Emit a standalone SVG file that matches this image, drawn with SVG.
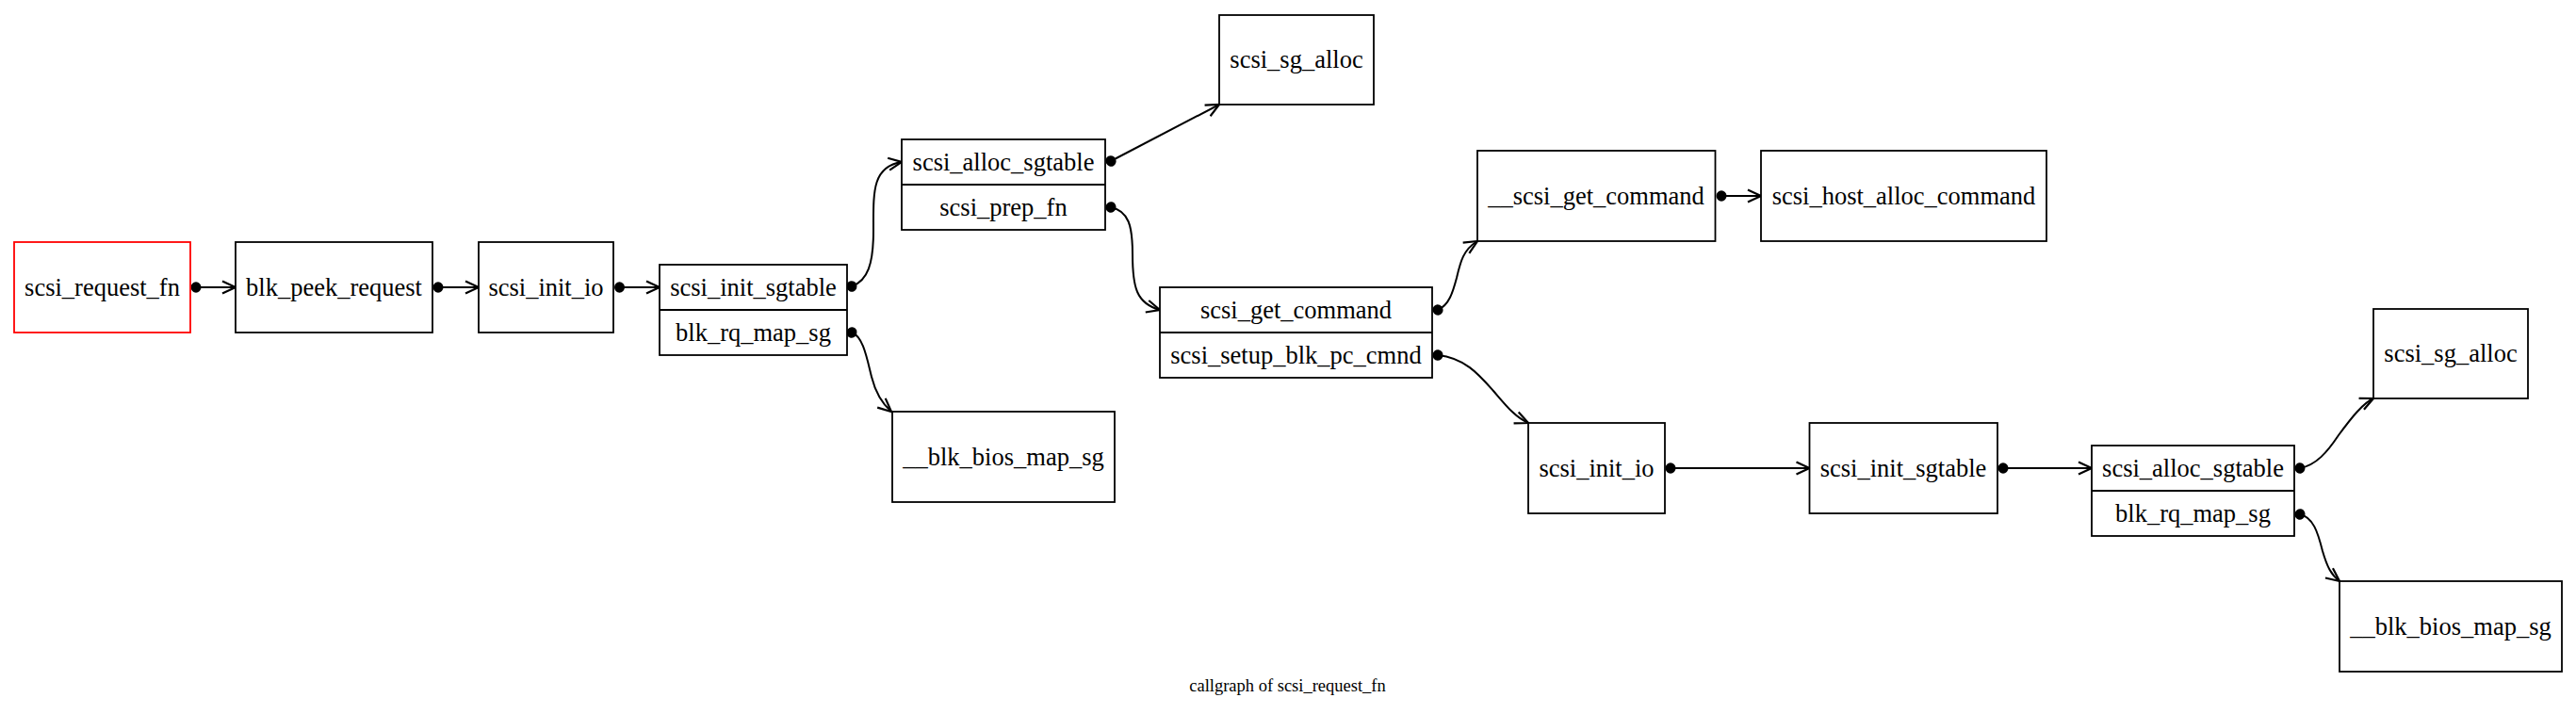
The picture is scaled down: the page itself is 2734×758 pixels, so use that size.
<svg xmlns="http://www.w3.org/2000/svg" width="2734" height="758" viewBox="0 0 2734 758">
<style>
.box{fill:#ffffff;stroke:#000000;stroke-width:1.8}
.red{stroke:#ff0000}
.div{stroke:#000000;stroke-width:1.8}
.lbl{font-family:"Liberation Serif","Times New Roman",serif;font-size:26.5px;fill:#000000;text-anchor:middle}
.title{font-family:"Liberation Serif","Times New Roman",serif;font-size:18.5px;fill:#000000;text-anchor:middle}
.edge{fill:none;stroke:#000000;stroke-width:2;marker-start:url(#dot);marker-end:url(#vee)}
</style>
<defs>
<marker id="vee" markerUnits="userSpaceOnUse" viewBox="-17 -9 19 18" refX="0" refY="0" markerWidth="19" markerHeight="18" orient="auto" overflow="visible">
<path d="M-14,-6.5 L0,0 L-14,6.5" fill="none" stroke="#000000" stroke-width="2.2"/>
</marker>
<marker id="dot" markerUnits="userSpaceOnUse" viewBox="-7 -7 14 14" refX="0" refY="0" markerWidth="14" markerHeight="14" orient="auto" overflow="visible">
<ellipse cx="0" cy="0" rx="5.5" ry="5.8" fill="#000000"/>
</marker>
</defs>
<rect width="2734" height="758" fill="#ffffff"/>
<g id="edges">
<path class="edge" d="M208,305 L250,305"/>
<path class="edge" d="M465,305 L508,305"/>
<path class="edge" d="M657.5,305 L700,305"/>
<path class="edge" d="M904,304 C921,298 927,280 927,245 C927,205 925,177 957,172"/>
<path class="edge" d="M904,353 C916,357 920,380 925,400 C930,420 938,430 946,437"/>
<path class="edge" d="M1179,171 L1294,111"/>
<path class="edge" d="M1179,220 C1198,224 1202,240 1202,270 C1202,305 1206,322 1231,329"/>
<path class="edge" d="M1526,329 C1538,324 1542,310 1546,295 C1550,278 1553,265 1568,256"/>
<path class="edge" d="M1526,377 C1555,380 1570,398 1585,415 C1598,430 1608,443 1622,449"/>
<path class="edge" d="M1827,208 L1869,208"/>
<path class="edge" d="M1773,497 L1920.5,497"/>
<path class="edge" d="M2126,497 L2220,497"/>
<path class="edge" d="M2441,497 C2458,494 2470,480 2482,462 C2496,443 2508,428 2519,423"/>
<path class="edge" d="M2441,546 C2455,549 2460,565 2465,585 C2470,602 2474,610 2483,617"/>
</g>
<g id="scsi_request_fn">
<rect class="box red" x="15" y="257" width="187" height="96"/>
<text class="lbl" x="108.5" y="314">scsi_request_fn</text>
</g>
<g id="blk_peek_request">
<rect class="box" x="250" y="257" width="209" height="96"/>
<text class="lbl" x="354.5" y="314">blk_peek_request</text>
</g>
<g id="scsi_init_io_1">
<rect class="box" x="508" y="257" width="143" height="96"/>
<text class="lbl" x="579.5" y="314">scsi_init_io</text>
</g>
<g id="rec_init_sgtable_1">
<rect class="box" x="700" y="281" width="199" height="96"/>
<line class="div" x1="700" y1="329" x2="899" y2="329"/>
<text class="lbl" x="799.5" y="313.5">scsi_init_sgtable</text>
<text class="lbl" x="799.5" y="361.5">blk_rq_map_sg</text>
</g>
<g id="rec_alloc_sgtable_1">
<rect class="box" x="957" y="148" width="216" height="96"/>
<line class="div" x1="957" y1="196" x2="1173" y2="196"/>
<text class="lbl" x="1065" y="180.5">scsi_alloc_sgtable</text>
<text class="lbl" x="1065" y="228.5">scsi_prep_fn</text>
</g>
<g id="scsi_sg_alloc_1">
<rect class="box" x="1294" y="16" width="164" height="95"/>
<text class="lbl" x="1376" y="72">scsi_sg_alloc</text>
</g>
<g id="blk_bios_map_sg_1">
<rect class="box" x="947" y="437" width="236" height="96"/>
<text class="lbl" x="1065" y="493.5">__blk_bios_map_sg</text>
</g>
<g id="rec_get_command">
<rect class="box" x="1231" y="305" width="289" height="96"/>
<line class="div" x1="1231" y1="353" x2="1520" y2="353"/>
<text class="lbl" x="1375.5" y="337.5">scsi_get_command</text>
<text class="lbl" x="1375.5" y="385.5">scsi_setup_blk_pc_cmnd</text>
</g>
<g id="__scsi_get_command">
<rect class="box" x="1568" y="160" width="252.5" height="96"/>
<text class="lbl" x="1694" y="216.5">__scsi_get_command</text>
</g>
<g id="scsi_host_alloc_command">
<rect class="box" x="1869" y="160" width="303" height="96"/>
<text class="lbl" x="2020.5" y="216.5">scsi_host_alloc_command</text>
</g>
<g id="scsi_init_io_2">
<rect class="box" x="1622" y="449" width="145" height="96"/>
<text class="lbl" x="1694.5" y="505.5">scsi_init_io</text>
</g>
<g id="scsi_init_sgtable_2">
<rect class="box" x="1920.5" y="449" width="199.5" height="96"/>
<text class="lbl" x="2020" y="505.5">scsi_init_sgtable</text>
</g>
<g id="rec_alloc_sgtable_2">
<rect class="box" x="2220" y="473" width="215" height="96"/>
<line class="div" x1="2220" y1="521" x2="2435" y2="521"/>
<text class="lbl" x="2327.5" y="505.5">scsi_alloc_sgtable</text>
<text class="lbl" x="2327.5" y="553.5">blk_rq_map_sg</text>
</g>
<g id="scsi_sg_alloc_2">
<rect class="box" x="2519" y="328" width="164" height="95"/>
<text class="lbl" x="2601" y="384">scsi_sg_alloc</text>
</g>
<g id="blk_bios_map_sg_2">
<rect class="box" x="2483" y="617" width="236" height="96"/>
<text class="lbl" x="2601" y="673.5">__blk_bios_map_sg</text>
</g>
<g id="title">
<text class="title" x="1366.5" y="734">callgraph of scsi_request_fn</text>
</g>
</svg>
